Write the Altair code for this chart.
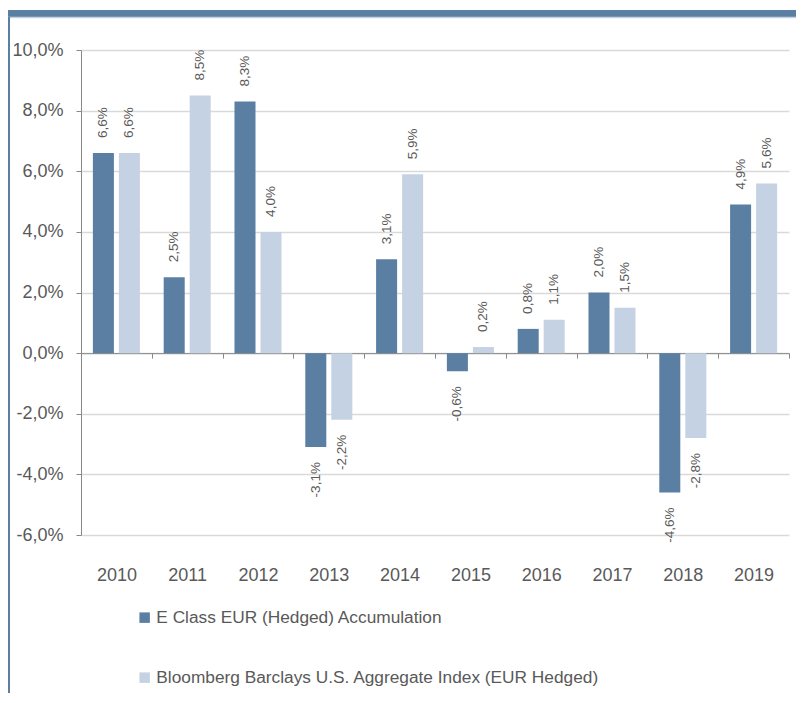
import altair as alt
import pandas as pd

years = ["2010", "2011", "2012", "2013", "2014", "2015", "2016", "2017", "2018", "2019"]
series_names = ["E Class EUR (Hedged) Accumulation",
                "Bloomberg Barclays U.S. Aggregate Index (EUR Hedged)"]
fund = [6.6, 2.5, 8.3, -3.1, 3.1, -0.6, 0.8, 2.0, -4.6, 4.9]
index = [6.6, 8.5, 4.0, -2.2, 5.9, 0.2, 1.1, 1.5, -2.8, 5.6]
colors = ["#5B7FA3", "#C5D2E3"]

rows = []
for i, y in enumerate(years):
    rows.append({"year": y, "series": series_names[0], "value": fund[i]})
    rows.append({"year": y, "series": series_names[1], "value": index[i]})
df = pd.DataFrame(rows)

W, H = 708, 485
ymin, ymax = -6, 10
zero_px = H * ymax / (ymax - ymin)
FONT = "Liberation Sans"
TXT = "#595959"
AX = "#898989"
PCT = "(datum.value < 0 ? '-' : '') + replace(format(abs(datum.value), '.1f'), '.', ',') + '%'"

x_enc = alt.X("year:N", sort=years, title=None,
              scale=alt.Scale(paddingInner=0, paddingOuter=0),
              axis=alt.Axis(offset=-(H - zero_px), tickBand="extent", tickSize=5,
                            tickColor=AX, domainColor=AX, labelPadding=208,
                            labelAngle=0, labelFontSize=18, labelColor=TXT,
                            labelFont=FONT, grid=False))
xo_enc = alt.XOffset("series:N", sort=series_names,
                     scale=alt.Scale(paddingInner=0.192, paddingOuter=0.457))
y_enc = alt.Y("value:Q", title=None,
              scale=alt.Scale(domain=[ymin, ymax], nice=False),
              axis=alt.Axis(values=list(range(ymin, ymax + 1, 2)),
                            labelExpr=PCT,
                            labelFontSize=18, labelColor=TXT, labelFont=FONT,
                            labelPadding=13, tickSize=5, tickColor=AX, domainColor=AX,
                            gridColor="#D9D9D9", gridWidth=1.5))

base = alt.Chart(df).transform_calculate(label=PCT)

bars = base.mark_bar().encode(
    x=x_enc, xOffset=xo_enc, y=y_enc,
    color=alt.Color("series:N", sort=series_names,
                    scale=alt.Scale(domain=series_names, range=colors),
                    legend=alt.Legend(title=None, orient="none", legendX=55, legendY=559,
                                      direction="vertical", symbolType="square",
                                      symbolSize=110, symbolStrokeWidth=0,
                                      labelFontSize=17.3, labelColor=TXT, labelFont=FONT,
                                      rowPadding=42, labelOffset=3, labelLimit=600,
                                      padding=0))
)

pos = base.transform_filter("datum.value >= 0").mark_text(
    angle=270, align="left", baseline="middle", dx=15,
    fontSize=13.5, color=TXT, font=FONT
).encode(x=alt.X("year:N", sort=years), xOffset=alt.XOffset("series:N", sort=series_names),
         y="value:Q", text="label:N")

neg = base.transform_filter("datum.value < 0").mark_text(
    angle=270, align="right", baseline="middle", dx=-15,
    fontSize=13.5, color=TXT, font=FONT
).encode(x=alt.X("year:N", sort=years), xOffset=alt.XOffset("series:N", sort=series_names),
         y="value:Q", text="label:N")

deco_data = alt.Data(values=[{"d": 1}])
top_band = alt.Chart(deco_data).mark_rule(color="#5B7FA3", strokeWidth=7).encode(
    x=alt.value(-73), x2=alt.value(730), y=alt.value(-36.5))
top_band2 = alt.Chart(deco_data).mark_rule(color="#C5D2E3", strokeWidth=1.5).encode(
    x=alt.value(-73), x2=alt.value(730), y=alt.value(-32.5))
left_border = alt.Chart(deco_data).mark_rule(color="#5B7FA3", strokeWidth=2).encode(
    x=alt.value(-72), y=alt.value(-33), y2=alt.value(660))

chart = alt.layer(bars, pos, neg, top_band, top_band2, left_border).properties(
    width=W, height=H,
    padding={"left": 73, "top": 42, "right": 7, "bottom": 158},
    autosize=alt.AutoSizeParams(type="none"),
    background="white",
).configure_view(stroke=None)

chart.save("out.html", embed_options={"renderer": "svg", "actions": False})
